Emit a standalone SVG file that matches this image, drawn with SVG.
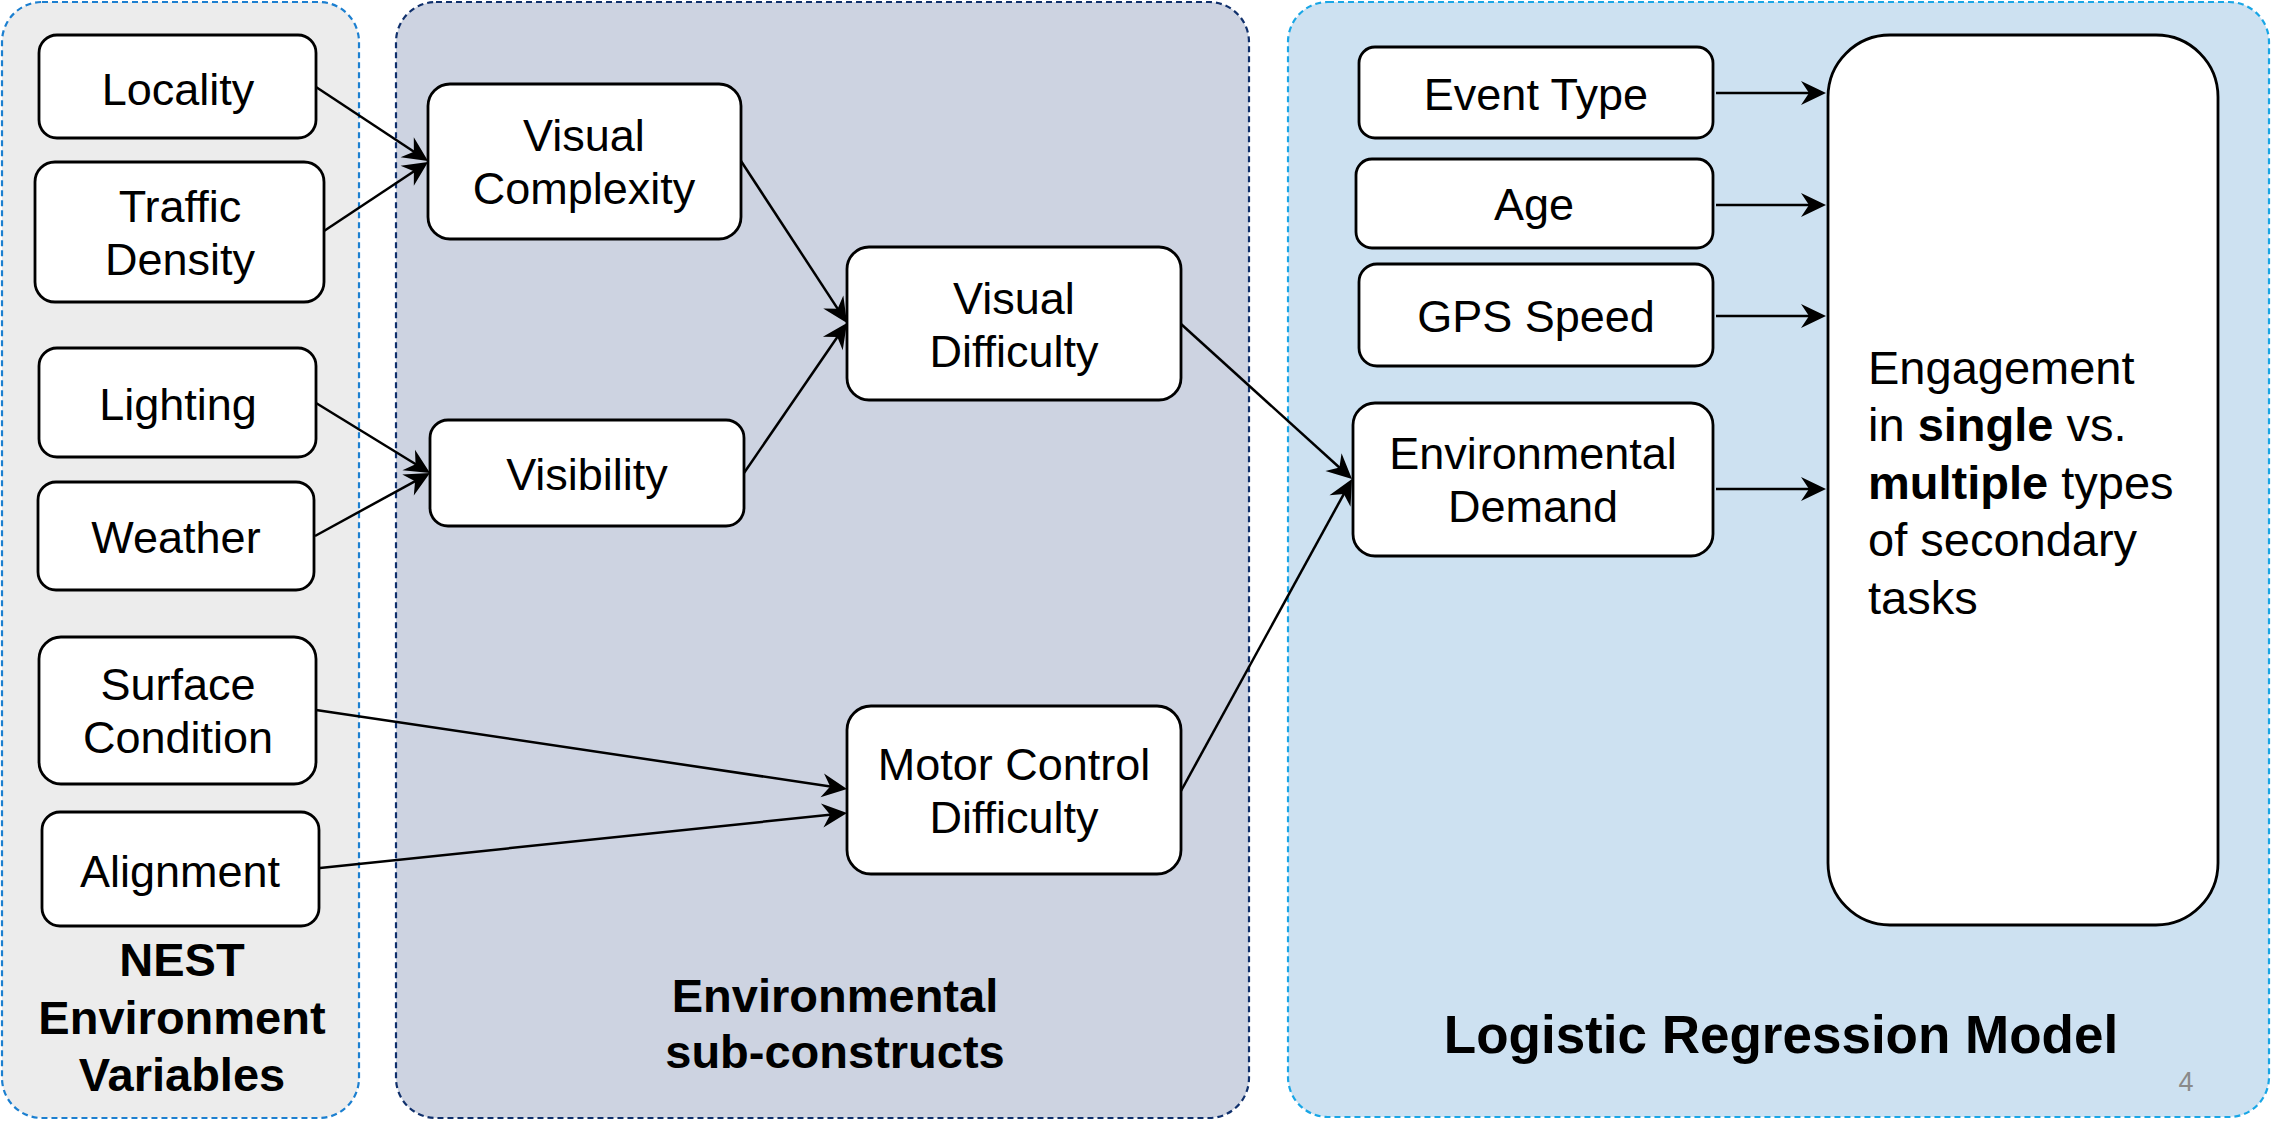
<svg xmlns="http://www.w3.org/2000/svg" width="2272" height="1121" viewBox="0 0 2272 1121">
  <style>
    .panel { stroke-width: 2.2; stroke-dasharray: 6 4; }
    .node rect { fill: #ffffff; stroke: #000000; stroke-width: 2.8; }
    .lbl { font-family: "Liberation Sans", Arial, sans-serif; font-size: 45px; fill: #000000; text-anchor: middle; }
    .title { font-family: "Liberation Sans", Arial, sans-serif; font-size: 47px; font-weight: bold; fill: #000000; text-anchor: middle; }
    .edge { stroke: #000000; stroke-width: 2.5; fill: none; marker-end: url(#arrow); }
  </style>
  <defs>
    <marker id="arrow" markerUnits="userSpaceOnUse" viewBox="-36 -14 38 28" markerWidth="38" markerHeight="28" refX="-10" refY="0" orient="auto">
      <path d="M0,0 L-25,-12 L-17,0 L-25,12 Z" fill="#000000"/>
    </marker>
  </defs>

  <rect width="2272" height="1121" fill="#ffffff"/>

  <!-- container panels -->
  <g id="panel-nest">
    <rect class="panel" x="2" y="2" width="357" height="1116" rx="40" ry="40" fill="#ececec" stroke="#1b7fd0"/>
    <text class="title" x="182" y="976">NEST</text>
    <text class="title" x="182" y="1034">Environment</text>
    <text class="title" x="182" y="1091">Variables</text>
  </g>
  <g id="panel-subconstructs">
    <rect class="panel" x="396" y="2" width="853" height="1116" rx="40" ry="40" fill="#cdd3e1" stroke="#10306c"/>
    <text class="title" x="835" y="1012">Environmental</text>
    <text class="title" x="835" y="1068">sub-constructs</text>
  </g>
  <g id="panel-model">
    <rect class="panel" x="1288" y="2" width="981" height="1115" rx="40" ry="40" fill="#cde1f1" stroke="#18a6e6"/>
    <text class="title" x="1781" y="1053" style="font-size:53px">Logistic Regression Model</text>
    <text x="2186" y="1091" style="font-family:'Liberation Sans', Arial, sans-serif; font-size:27px; fill:#8a8a8a; text-anchor:middle">4</text>
  </g>

  <!-- connectors -->
  <g id="connectors">
    <line class="edge" x1="316" y1="87" x2="419.7" y2="155.5"/>
    <line class="edge" x1="324" y1="231" x2="419.7" y2="167.5"/>
    <line class="edge" x1="316" y1="403" x2="421.5" y2="467.8"/>
    <line class="edge" x1="315" y1="536" x2="421.2" y2="477.8"/>
    <line class="edge" x1="741" y1="161" x2="841.5" y2="314.6"/>
    <line class="edge" x1="744" y1="473" x2="841.3" y2="331.2"/>
    <line class="edge" x1="316" y1="710" x2="837.1" y2="787.5"/>
    <line class="edge" x1="320" y1="868" x2="837.1" y2="814"/>
    <line class="edge" x1="1181" y1="324" x2="1344.6" y2="472.3"/>
    <line class="edge" x1="1181" y1="791" x2="1347.2" y2="487.8"/>
    <line class="edge" x1="1716" y1="93" x2="1816" y2="93"/>
    <line class="edge" x1="1716" y1="205" x2="1816" y2="205"/>
    <line class="edge" x1="1716" y1="316" x2="1816" y2="316"/>
    <line class="edge" x1="1716" y1="489" x2="1816" y2="489"/>
  </g>

  <!-- NEST environment variables -->
  <g id="locality" class="node">
    <rect x="39" y="35" width="277" height="103" rx="18"/>
    <text class="lbl" x="178" y="105">Locality</text>
  </g>
  <g id="traffic-density" class="node">
    <rect x="35" y="162" width="289" height="140" rx="20"/>
    <text class="lbl" x="180" y="222">Traffic</text>
    <text class="lbl" x="180" y="275">Density</text>
  </g>
  <g id="lighting" class="node">
    <rect x="39" y="348" width="277" height="109" rx="18"/>
    <text class="lbl" x="178" y="420">Lighting</text>
  </g>
  <g id="weather" class="node">
    <rect x="38" y="482" width="276" height="108" rx="18"/>
    <text class="lbl" x="176" y="553">Weather</text>
  </g>
  <g id="surface-condition" class="node">
    <rect x="39" y="637" width="277" height="147" rx="22"/>
    <text class="lbl" x="178" y="700">Surface</text>
    <text class="lbl" x="178" y="753">Condition</text>
  </g>
  <g id="alignment" class="node">
    <rect x="42" y="812" width="277" height="114" rx="18"/>
    <text class="lbl" x="180" y="887">Alignment</text>
  </g>

  <!-- environmental sub-constructs -->
  <g id="visual-complexity" class="node">
    <rect x="428" y="84" width="313" height="155" rx="22"/>
    <text class="lbl" x="584" y="151">Visual</text>
    <text class="lbl" x="584" y="204">Complexity</text>
  </g>
  <g id="visibility" class="node">
    <rect x="430" y="420" width="314" height="106" rx="18"/>
    <text class="lbl" x="587" y="490">Visibility</text>
  </g>
  <g id="visual-difficulty" class="node">
    <rect x="847" y="247" width="334" height="153" rx="22"/>
    <text class="lbl" x="1014" y="314">Visual</text>
    <text class="lbl" x="1014" y="367">Difficulty</text>
  </g>
  <g id="motor-control-difficulty" class="node">
    <rect x="847" y="706" width="334" height="168" rx="24"/>
    <text class="lbl" x="1014" y="780">Motor Control</text>
    <text class="lbl" x="1014" y="833">Difficulty</text>
  </g>

  <!-- logistic regression model -->
  <g id="event-type" class="node">
    <rect x="1359" y="47" width="354" height="91" rx="16"/>
    <text class="lbl" x="1536" y="110">Event Type</text>
  </g>
  <g id="age" class="node">
    <rect x="1356" y="159" width="357" height="89" rx="16"/>
    <text class="lbl" x="1534" y="220">Age</text>
  </g>
  <g id="gps-speed" class="node">
    <rect x="1359" y="264" width="354" height="102" rx="18"/>
    <text class="lbl" x="1536" y="332">GPS Speed</text>
  </g>
  <g id="environmental-demand" class="node">
    <rect x="1353" y="403" width="360" height="153" rx="22"/>
    <text class="lbl" x="1533" y="469">Environmental</text>
    <text class="lbl" x="1533" y="522">Demand</text>
  </g>
  <g id="engagement" class="node">
    <rect x="1828" y="35" width="390" height="890" rx="62"/>
    <text x="1868" style="font-family:'Liberation Sans', Arial, sans-serif; font-size:47px; fill:#000000">
      <tspan x="1868" y="384">Engagement</tspan>
      <tspan x="1868" y="441">in <tspan font-weight="bold">single</tspan> vs.</tspan>
      <tspan x="1868" y="499"><tspan font-weight="bold">multiple</tspan> types</tspan>
      <tspan x="1868" y="556">of secondary</tspan>
      <tspan x="1868" y="614">tasks</tspan>
    </text>
  </g>
</svg>
